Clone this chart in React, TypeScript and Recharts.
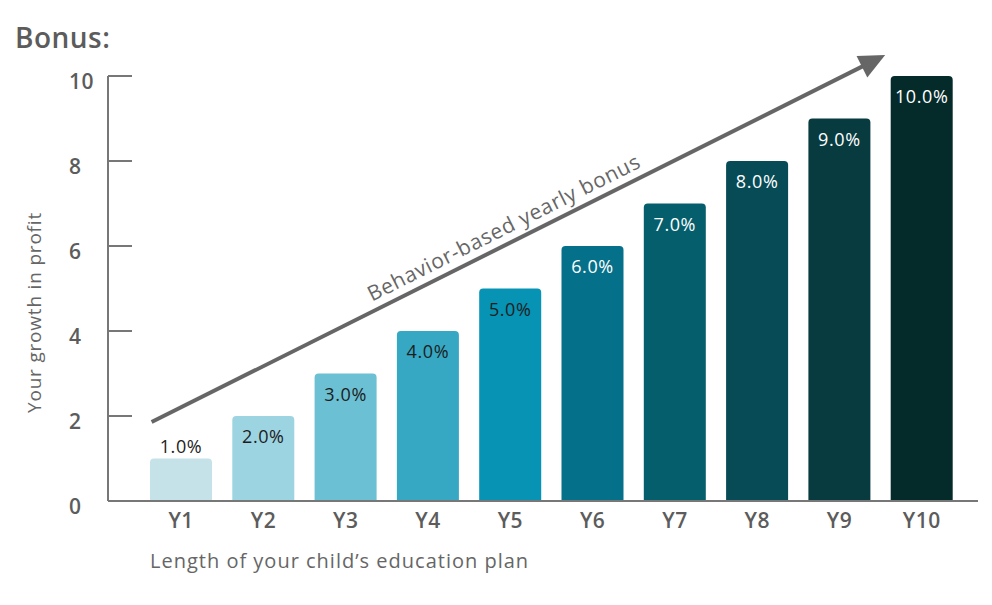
import { BarChart, Bar, XAxis, YAxis, Cell, LabelList, ReferenceLine } from "recharts";

const years = ["Y1", "Y2", "Y3", "Y4", "Y5", "Y6", "Y7", "Y8", "Y9", "Y10"];
const bonus = [1, 2, 3, 4, 5, 6, 7, 8, 9, 10];
const yTicks = [0, 2, 4, 6, 8, 10];
// arrow annotation endpoints (value units)
const arrowFrom = { x: "Y1", y: 1.72 };
const arrowTo = { x: "Y10", y: 10.44 };

const palette = [
  "#c6e2e9", "#9dd4e2", "#6bc0d4", "#36a8c4", "#0693b4",
  "#05708a", "#045e6b", "#064b55", "#073b3f", "#052a2a",
];

const data = years.map((year, i) => ({ year, bonus: bonus[i] }));

const FONT = "'Open Sans', sans-serif";
const GREY = "#5c5c5c";

const YTick = ({ x, y, payload }: any) => (
  <g>
    <line x1={x} x2={x + 24} y1={y} y2={y} stroke="#777" strokeWidth={2} />
    <text x={x - 39} y={y + 13} fill={GREY} fontSize={21} fontWeight={600} fontFamily={FONT} letterSpacing={0.5}>
      {payload.value}
    </text>
  </g>
);

const XTick = ({ x, y, payload }: any) => (
  <text
    x={x}
    y={y + 27}
    textAnchor="middle"
    fill={GREY}
    fontSize={21}
    fontWeight={600}
    fontFamily={FONT}
    letterSpacing={0.5}
  >
    {payload.value}
  </text>
);

const BarLabel = ({ x, y, width, height, value, index }: any) => {
  const outside = height < 50;
  return (
    <text
      x={x + width / 2}
      y={outside ? y - 6 : y + 27}
      textAnchor="middle"
      fill={index >= 5 ? "#ffffff" : "#1d1d1d"}
      fontSize={18}
      fontFamily={FONT}
      letterSpacing={0.6}
    >
      {`${Number(value).toFixed(1)}%`}
    </text>
  );
};

const Arrow = ({ x1, y1, x2, y2 }: any) => {
  const len = Math.hypot(x2 - x1, y2 - y1);
  const ux = (x2 - x1) / len;
  const uy = (y2 - y1) / len;
  const sx = x1 + ux * 13;
  const sy = y1 + uy * 13;
  const tx = x2 + ux * 5;
  const ty = y2 + uy * 5;
  const bx = tx - ux * 26;
  const by = ty - uy * 26;
  const nx = -uy;
  const ny = ux;
  const angle = (Math.atan2(uy, ux) * 180) / Math.PI;
  const lx = sx + ux * 402 + uy * 9;
  const ly = sy + uy * 402 - ux * 9;
  return (
    <g>
      <line x1={sx} y1={sy} x2={bx + ux * 4} y2={by + uy * 4} stroke="#666" strokeWidth={4} />
      <polygon
        points={`${tx},${ty} ${bx + nx * 12},${by + ny * 12} ${bx - nx * 12},${by - ny * 12}`}
        fill="#666"
      />
      <text
        x={lx}
        y={ly}
        textAnchor="middle"
        transform={`rotate(${angle} ${lx} ${ly})`}
        fill="#666"
        fontSize={21}
        fontFamily={FONT}
        letterSpacing={0.7}
      >
        Behavior-based yearly bonus
      </text>
    </g>
  );
};

export default function App() {
  return (
    <div style={{ position: "absolute", left: 0, top: 0, width: 992, height: 605, background: "#fff" }}>
      <div
        style={{
          position: "absolute",
          left: 15,
          top: 23,
          fontFamily: FONT,
          fontSize: 28,
          lineHeight: "28px",
          fontWeight: 600,
          letterSpacing: 0.5,
          color: GREY,
        }}
      >
        Bonus:
      </div>
      <BarChart width={992} height={605} data={data} margin={{ top: 76, right: 14, left: 0, bottom: 0 }}>
        <XAxis
          dataKey="year"
          height={104}
          padding={{ left: 32, right: 15 }}
          axisLine={{ stroke: "#777", strokeWidth: 2 }}
          tickLine={false}
          tickSize={0}
          tickMargin={0}
          tick={<XTick />}
          interval={0}
          label={{
            content: ({ viewBox }: any) => (
              <text x={150} y={viewBox.y + 67} fill="#666" fontSize={20} fontFamily={FONT} letterSpacing={1}>
                Length of your child’s education plan
              </text>
            ),
          }}
        />
        <YAxis
          width={108}
          domain={[0, 10]}
          ticks={yTicks}
          axisLine={{ stroke: "#777", strokeWidth: 2 }}
          tickLine={false}
          tickSize={0}
          tickMargin={0}
          tick={<YTick />}
          label={{
            content: ({ viewBox }: any) => {
              const cx = 41;
              const cy = viewBox.y + viewBox.height / 2 + 24;
              return (
                <text
                  x={cx}
                  y={cy}
                  textAnchor="middle"
                  transform={`rotate(-90 ${cx} ${cy})`}
                  fill="#666"
                  fontSize={19}
                  fontFamily={FONT}
                  letterSpacing={0.8}
                >
                  Your growth in profit
                </text>
              );
            },
          }}
        />
        <Bar dataKey="bonus" barSize={62} radius={[4, 4, 0, 0]} isAnimationActive={false}>
          {data.map((d, i) => (
            <Cell key={d.year} fill={palette[i]} />
          ))}
          <LabelList dataKey="bonus" content={<BarLabel />} />
        </Bar>
        <ReferenceLine
          segment={[arrowFrom, arrowTo]}
          position="start"
          ifOverflow="visible"
          shape={(p: any) => <Arrow {...p} />}
        />
      </BarChart>
    </div>
  );
}
